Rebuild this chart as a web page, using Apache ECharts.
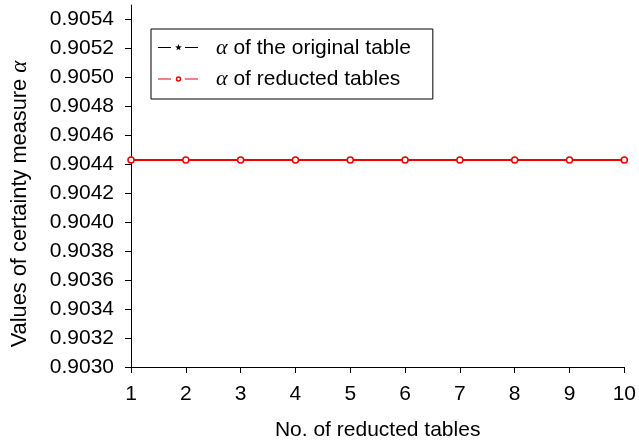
<!DOCTYPE html>
<html>
<head>
<meta charset="utf-8">
<script src="https://cdn.jsdelivr.net/npm/echarts@6/dist/echarts.min.js"></script>
<style>
  html, body { margin: 0; padding: 0; background: #fff; }
  #chart { width: 639px; height: 446px; }
</style>
</head>
<body>
<div id="chart"></div>
<script>
// Number of reducted tables on the x axis
const tableNo = [1, 2, 3, 4, 5, 6, 7, 8, 9, 10];
// Certainty measure alpha of the original table (constant)
const alphaOriginal = [0.90443, 0.90443, 0.90443, 0.90443, 0.90443, 0.90443, 0.90443, 0.90443, 0.90443, 0.90443];
// Certainty measure alpha of each reducted table
const alphaReducted = [0.90443, 0.90443, 0.90443, 0.90443, 0.90443, 0.90443, 0.90443, 0.90443, 0.90443, 0.90443];
// Y tick labels
const yTicks = [0.9030, 0.9032, 0.9034, 0.9036, 0.9038, 0.9040, 0.9042, 0.9044, 0.9046, 0.9048, 0.9050, 0.9052, 0.9054];

const font = 'Liberation Sans, Arial, sans-serif';
const serif = 'Liberation Serif, Times New Roman, serif';

// Plot markers
const starPath = 'path://M50,0 L61,35 L98,35 L68,57 L79,91 L50,70 L21,91 L32,57 L2,35 L39,35 Z';

// Legend icons: broken line with a small marker in the gap (40 x 14 box)
const box = 'M0 0 L0 0 M40 14 L40 14 ';
const legendStar = 'path://' + box +
  'M0 6 L13 6 L13 7 L0 7 Z M27 6 L40 6 L40 7 L27 7 Z ' +
  'M20.5 3 L21.32 5.37 L23.83 5.42 L21.83 6.94 L22.56 9.33 L20.5 7.9 L18.44 9.33 L19.17 6.94 L17.17 5.42 L19.68 5.37 Z';
const legendRing = 'path://' + box +
  'M0 6.4 L13 6.4 L13 7.6 L0 7.6 Z M27 6.4 L40 6.4 L40 7.6 L27 7.6 Z ' +
  'M23.2 7 A2.7 2.7 0 1 1 17.8 7 A2.7 2.7 0 1 1 23.2 7 Z ' +
  'M21.7 7 A1.2 1.2 0 1 0 19.3 7 A1.2 1.2 0 1 0 21.7 7 Z';

const chart = echarts.init(document.getElementById('chart'), null, { renderer: 'canvas' });

chart.setOption({
  animation: false,
  grid: { left: 130, right: 13, top: 5, bottom: 77 },
  legend: {
    left: 151, top: 29,
    orient: 'vertical',
    padding: [8, 22, 9, 7],
    itemGap: 9,
    itemWidth: 40, itemHeight: 14,
    borderColor: '#000', borderWidth: 1, borderRadius: 0,
    backgroundColor: '#fff',
    data: [
      { name: 'orig', icon: legendStar, itemStyle: { color: '#000', borderWidth: 0 } },
      { name: 'red', icon: legendRing, itemStyle: { color: '#ee0000', borderWidth: 0 } }
    ],
    formatter: function (name) {
      return name === 'orig'
        ? '{a|\u03b1}{t| of the original table}'
        : '{a|\u03b1}{t| of reducted tables}';
    },
    textStyle: {
      padding: [0, 0, 0, 13],
      lineHeight: 22,
      rich: {
        a: { fontFamily: serif, fontStyle: 'italic', fontSize: 22, color: '#000', lineHeight: 22 },
        t: { fontFamily: font, fontSize: 21, color: '#000', lineHeight: 22 }
      }
    }
  },
  xAxis: {
    type: 'value',
    min: 1, max: 10, interval: 1,
    name: 'No. of reducted tables',
    nameLocation: 'middle', nameGap: 53,
    nameTextStyle: { fontFamily: font, fontSize: 21, color: '#000' },
    axisLine: { show: true, lineStyle: { color: '#000', width: 1 } },
    axisTick: { show: true, inside: false, length: 6, lineStyle: { color: '#000' } },
    axisLabel: { fontFamily: font, fontSize: 21, color: '#000', margin: 17 },
    splitLine: { show: false }
  },
  yAxis: {
    type: 'value',
    min: 0.9030, max: 0.9055, interval: 0.0002,
    name: 'Values of certainty measure {a|\u03b1}',
    nameLocation: 'middle', nameGap: 100,
    nameTextStyle: {
      fontFamily: font, fontSize: 21.8, color: '#000',
      padding: [0, 36, 0, 0],
      rich: { a: { fontFamily: serif, fontStyle: 'italic', fontSize: 23, color: '#000' } }
    },
    axisLine: { show: true, lineStyle: { color: '#000', width: 1 } },
    axisTick: { show: true, inside: false, length: 6, lineStyle: { color: '#000' }, customValues: yTicks },
    axisLabel: {
      fontFamily: font, fontSize: 21, color: '#000', margin: 17,
      customValues: yTicks,
      formatter: function (v) { return v.toFixed(4); }
    },
    splitLine: { show: false }
  },
  series: [
    {
      name: 'orig',
      type: 'line',
      data: tableNo.map((x, i) => [x, alphaOriginal[i]]),
      symbol: starPath, symbolSize: 7,
      lineStyle: { color: '#000', width: 1 },
      itemStyle: { color: '#000' },
      z: 2
    },
    {
      name: 'red',
      type: 'line',
      data: tableNo.map((x, i) => [x, alphaReducted[i]]),
      symbol: 'circle', symbolSize: 6,
      showAllSymbol: true,
      lineStyle: { color: '#ee0000', width: 2 },
      itemStyle: { color: '#fff', borderColor: '#ee0000', borderWidth: 1.5 },
      z: 3
    }
  ]
});
</script>
</body>
</html>
